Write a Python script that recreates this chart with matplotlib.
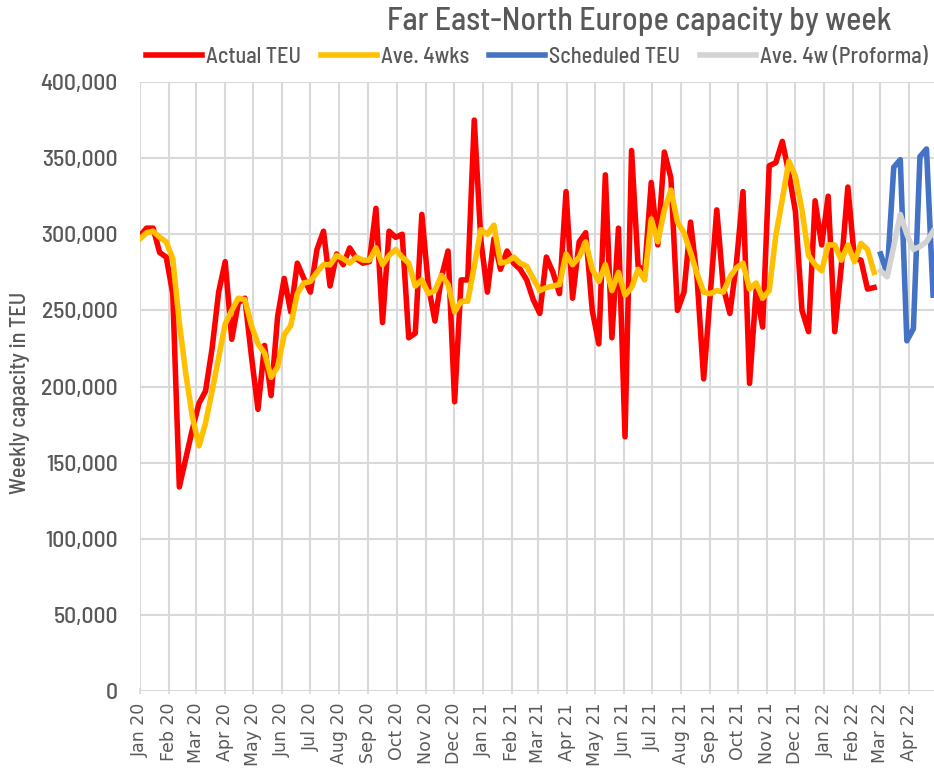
import numpy as np
import pandas as pd
import matplotlib
matplotlib.use("Agg")
import matplotlib.pyplot as plt
import matplotlib.dates as mdates
from matplotlib.ticker import FuncFormatter

# weekly capacity, TEU, weeks starting 1 Jan 2020
actual_teu = [
    299, 304, 304, 288, 285, 261, 134, 153, 172, 189,
    197, 225, 262, 282, 231, 255, 258, 220, 185, 227,
    194, 246, 271, 249, 281, 271, 262, 290, 302, 266,
    287, 280, 291, 284, 281, 282, 317, 242, 302, 298,
    300, 232, 235, 313, 266, 243, 272, 289, 190, 270,
    270, 375, 296, 262, 297, 277, 289, 281, 277, 270,
    257, 248, 285, 275, 261, 328, 258, 295, 301, 250,
    228, 339, 232, 304, 167, 355, 279, 276, 334, 293,
    354, 337, 250, 262, 308, 271, 205, 260, 316, 265,
    248, 281, 328, 202, 263, 239, 345, 347, 361, 340,
    315, 250, 236, 322, 293, 325, 236, 279, 331, 284,
    283, 264, 265,
]
ave_4wks = [
    297, 301, 302, 298, 295, 284, 242, 208, 180, 161,
    176, 197, 219, 241, 250, 258, 257, 240, 228, 222,
    206, 213, 234, 240, 261, 268, 269, 275, 280, 280,
    286, 284, 281, 285, 283, 283, 291, 280, 286, 290,
    285, 281, 266, 270, 261, 263, 273, 267, 249, 256,
    256, 279, 303, 300, 306, 281, 282, 285, 281, 279,
    271, 263, 265, 266, 267, 287, 280, 285, 295, 277,
    269, 280, 263, 275, 260, 265, 277, 270, 310, 295,
    316, 329, 308, 301, 288, 274, 262, 261, 263, 262,
    272, 278, 281, 264, 268, 258, 263, 299, 323, 348,
    338, 316, 286, 280, 276, 293, 293, 283, 293, 282,
    294, 290, 275,
]
scheduled_teu = [287, 274, 344, 349, 230, 238, 351, 356, 260]
ave_4w_proforma = [276, 272, 292, 313, 300, 290, 292, 295, 302]

weeks = pd.date_range("2020-01-01", periods=len(actual_teu) + len(scheduled_teu), freq="7D")
n_act = len(actual_teu)
actual_weeks = weeks[:n_act]
sched_weeks = weeks[n_act:]

txt_color = "#595959"
narrow = ["Barlow Semi Condensed", "Roboto Condensed", "DejaVu Sans"]

fig = plt.figure(figsize=(9.34, 7.73), dpi=100)
ax = fig.add_axes([140 / 934, (773 - 691) / 773, 1 - 140 / 934, (691 - 82) / 773])

lw = 4.0
ax.plot(actual_weeks, np.array(actual_teu) * 1000, color="#FF0000", lw=lw,
        label="Actual TEU", solid_joinstyle="round", zorder=3)
ax.plot(actual_weeks, np.array(ave_4wks) * 1000, color="#FFC000", lw=lw,
        label="Ave. 4wks", solid_joinstyle="round", zorder=4)
ax.plot(sched_weeks, np.array(scheduled_teu) * 1000, color="#4472C4", lw=lw,
        label="Scheduled TEU", solid_joinstyle="round", zorder=3)
ax.plot(sched_weeks, np.array(ave_4w_proforma) * 1000, color="#D3D3D3", lw=lw,
        label="Ave. 4w (Proforma)", solid_joinstyle="round", zorder=4)

ax.set_ylim(0, 400000)
ax.set_xlim(pd.Timestamp("2020-01-01"), pd.Timestamp("2020-01-01") + pd.Timedelta(days=848))
ax.yaxis.set_major_locator(plt.MultipleLocator(50000))
ax.yaxis.set_major_formatter(FuncFormatter(lambda v, p: "{:,.0f}".format(v)))
ax.xaxis.set_major_locator(mdates.MonthLocator())
ax.xaxis.set_major_formatter(mdates.DateFormatter("%b %y"))

ax.grid(True, color="#D9D9D9", lw=1.5)
ax.set_axisbelow(True)
for s in ax.spines.values():
    s.set_visible(False)
ax.tick_params(axis="y", length=0, pad=16, labelsize=17, labelcolor=txt_color)
ax.tick_params(axis="x", length=5, direction="inout", color="#D9D9D9", width=1.2,
               labelsize=12.5, labelcolor=txt_color, labelrotation=90, pad=6)
for t in ax.get_yticklabels():
    t.set_family(narrow)
    t.set_weight(500)

ax.set_ylabel("Weekly capacity in TEU", fontsize=16, color=txt_color, family=narrow, weight=500)
ax.yaxis.set_label_coords(-0.138, 0.49)

fig.text(639 / 934, 1 - 21 / 773, "Far East-North Europe capacity by week", ha="center", va="center",
         fontsize=23, color=txt_color, family=narrow, weight=500)

ax.legend(loc="center", bbox_to_anchor=(0.5, 1 + 25 / 609), ncol=4, frameon=False,
          prop={"family": narrow, "size": 16, "weight": 500}, labelcolor=txt_color,
          handlelength=2.5, handletextpad=0.2, columnspacing=0.9, borderaxespad=0)

fig.savefig("out.png", dpi=100)
